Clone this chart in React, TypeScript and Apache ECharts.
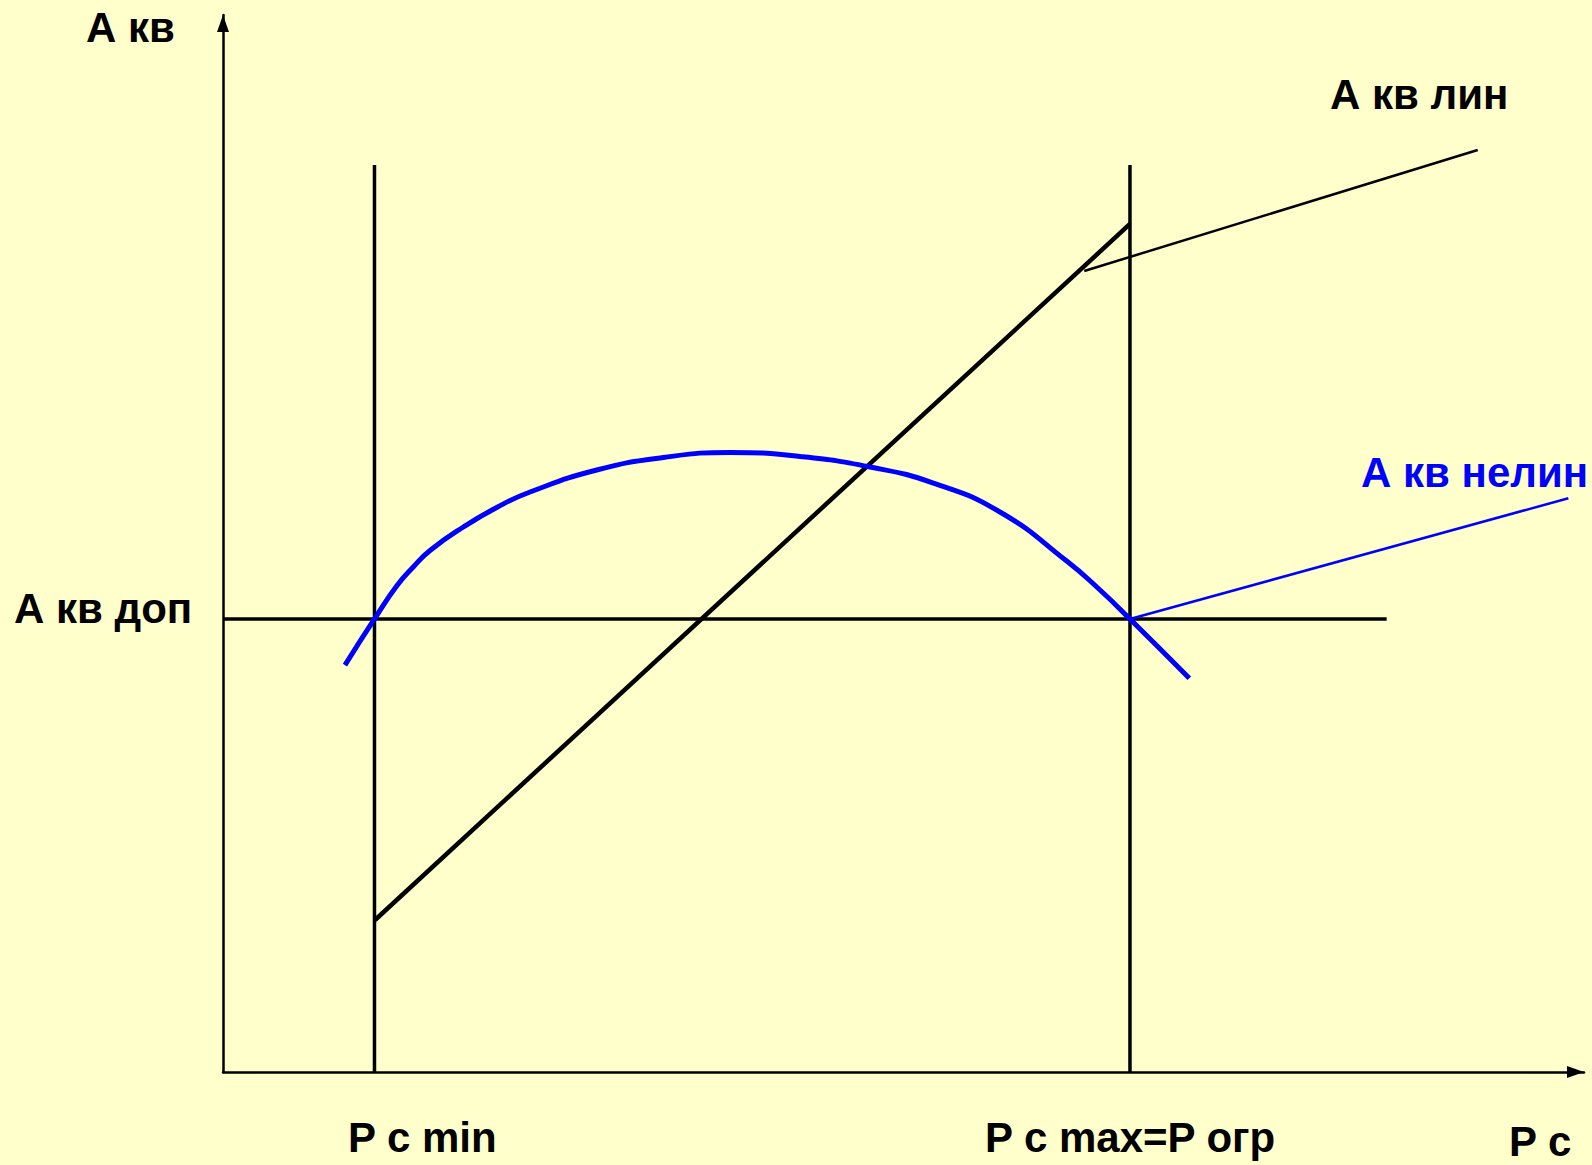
import React, { useEffect, useRef } from "react";
import * as echarts from "echarts";

// ---- data (axis units: P c along x, A кв along y, both 0..100) ----
const blueCurveX = [8.96, 11.13, 12.76, 13.98, 15.21, 17.66, 20.11, 22.56, 27.46, 32.35, 37.25, 42.4, 47.54, 52.19, 57.09, 61.99, 64.44, 66.64, 71.0];
const blueCurveY = [38.5, 42.86, 45.98, 47.78, 49.34, 51.56, 53.41, 54.87, 56.95, 58.14, 58.61, 58.23, 57.24, 55.72, 52.98, 48.34, 45.6, 42.86, 37.25];

const linearX = [11.17, 66.64];
const linearY = [14.38, 80.23];

const pcMinX = 11.13;
const pcMaxX = 66.64;
const verticalTopY = 85.8;

const dopY = 42.86;
const dopEndX = 85.5;

const linLeaderX = [63.28, 92.19];
const linLeaderY = [75.78, 87.23];

const nelinLeaderX = [66.64, 98.85];
const nelinLeaderY = [42.86, 54.28];

const labelTexts = {
  yName: "А кв",
  lin: "А кв лин",
  nelin: "А кв нелин",
  dop: "А кв доп",
  pcMin: "P c min",
  pcMax: "P c max=P огр",
  xName: "P c",
};

const zip = (xs: number[], ys: number[]) => xs.map((x, i) => [x, ys[i]]);

const FONT = '"Liberation Sans", Arial, sans-serif';

export default function App() {
  const ref = useRef<HTMLDivElement>(null);
  useEffect(() => {
    if (!ref.current) return;
    const chart = echarts.init(ref.current, null, { renderer: "svg" });
    const lineSeries = (data: number[][], color: string, width: number, smooth: number | boolean = false) => ({
      type: "line",
      data,
      showSymbol: false,
      symbol: "none",
      smooth,
      smoothConstraint: false,
      silent: true,
      lineStyle: { color, width, cap: "butt", join: "round" },
      z: 3,
    });
    const txt = (text: string, x: number, baseline: number, color = "#000") => ({
      type: "text",
      x,
      y: baseline - 14.7,
      style: {
        text,
        fill: color,
        font: `bold 42px ${FONT}`,
        align: "left",
        verticalAlign: "middle",
      },
      z: 10,
    });
    const axisLine = {
      show: true,
      symbol: ["none", "triangle"],
      symbolSize: [12, 17],
      symbolOffset: [0, -8.5],
      lineStyle: { color: "#000", width: 2.5 },
    };
    chart.setOption({
      animation: false,
      backgroundColor: "#FFFFCC",
      grid: { left: 223, top: 15, width: 1361, height: 1057, containLabel: false },
      xAxis: {
        type: "value",
        min: 0,
        max: 100,
        axisLine,
        axisTick: { show: false },
        axisLabel: { show: false },
        splitLine: { show: false },
      },
      yAxis: {
        type: "value",
        min: 0,
        max: 100,
        axisLine,
        axisTick: { show: false },
        axisLabel: { show: false },
        splitLine: { show: false },
      },
      series: [
        lineSeries([[pcMinX, 0], [pcMinX, verticalTopY]], "#000", 3.5),
        lineSeries([[pcMaxX, 0], [pcMaxX, verticalTopY]], "#000", 3.5),
        lineSeries([[0, dopY], [dopEndX, dopY]], "#000", 3.5),
        lineSeries(zip(linearX, linearY), "#000", 4.5),
        lineSeries(zip(linLeaderX, linLeaderY), "#000", 2.5),
        lineSeries(zip(nelinLeaderX, nelinLeaderY), "#0000FF", 2.5),
        lineSeries(zip(blueCurveX, blueCurveY), "#0000FF", 5, 0.5),
      ],
      graphic: [
        txt(labelTexts.yName, 86, 42.3),
        txt(labelTexts.lin, 1330, 109),
        txt(labelTexts.nelin, 1361, 487, "#0000FF"),
        txt(labelTexts.dop, 14, 623),
        txt(labelTexts.pcMin, 348, 1152),
        txt(labelTexts.pcMax, 985, 1152),
        txt(labelTexts.xName, 1509, 1156),
      ],
    });
    return () => chart.dispose();
  }, []);
  return (
    <div
      ref={ref}
      style={{ position: "absolute", left: 0, top: 0, width: 1592, height: 1165 }}
    />
  );
}
